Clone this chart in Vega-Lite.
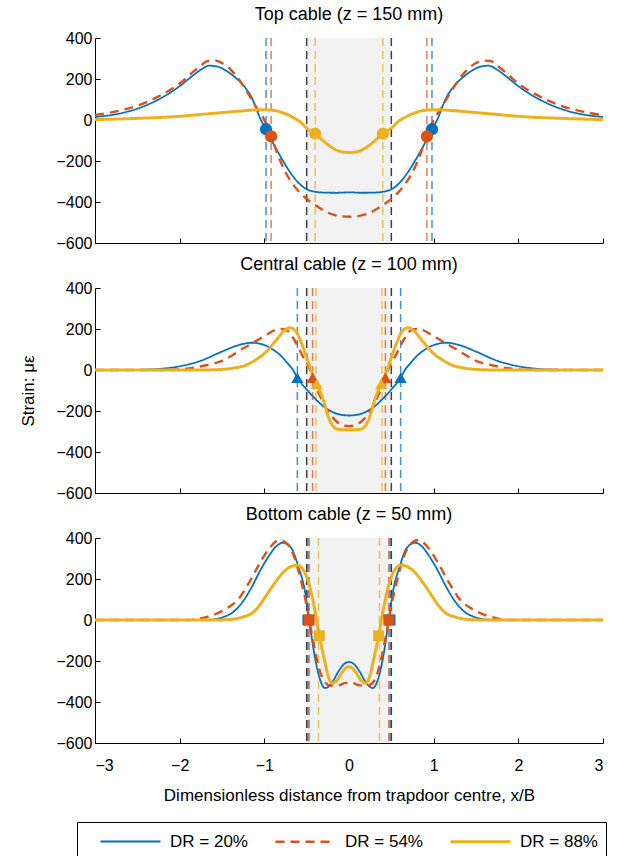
{
"$schema":"https://vega.github.io/schema/vega-lite/v6.json",
"padding":{"left":19,"top":6,"right":0,"bottom":0},
"spacing":5,
"config":{"font":"Liberation Sans","view":{"stroke":null},
 "axis":{"grid":false,"domainColor":"black","tickColor":"black","labelColor":"black","labelFontSize":16,"titleFontSize":17,"titleFontWeight":"normal","titleColor":"black","tickSize":-5,"labelPadding":8,"domainWidth":1,"tickWidth":1},
 "axisX":{"labelPadding":19},
 "legend":{"orient":"none","legendX":-18,"legendY":784,"direction":"horizontal","columns":3,"symbolType":"M0.4,0H6.4","symbolSize":400,"labelFontSize":17,"labelColor":"black","strokeColor":"black","padding":8,"columnPadding":12,"labelOffset":62},
 "title":{"fontSize":18,"fontWeight":"normal","color":"black","frame":"group","anchor":"middle","offset":6}},
"datasets":{
"trap":[{"x":-0.5,"x2":0.5}],
"edges":[{"x":-0.5},{"x":0.5}],
"vlines":[
{"p":"T","s":"20%","x":-0.98},{"p":"T","s":"20%","x":0.98},{"p":"T","s":"54%","x":-0.92},{"p":"T","s":"54%","x":0.92},{"p":"T","s":"88%","x":-0.40},{"p":"T","s":"88%","x":0.40},
{"p":"M","s":"20%","x":-0.61},{"p":"M","s":"20%","x":0.61},{"p":"M","s":"54%","x":-0.43},{"p":"M","s":"54%","x":0.43},{"p":"M","s":"88%","x":-0.39},{"p":"M","s":"88%","x":0.39},
{"p":"B","s":"20%","x":-0.485},{"p":"B","s":"20%","x":0.485},{"p":"B","s":"54%","x":-0.47},{"p":"B","s":"54%","x":0.47},{"p":"B","s":"88%","x":-0.36},{"p":"B","s":"88%","x":0.36}],
"markers":[
{"p":"T","s":"20%","x":-0.98,"y":-45},{"p":"T","s":"20%","x":0.98,"y":-45},{"p":"T","s":"54%","x":-0.92,"y":-80},{"p":"T","s":"54%","x":0.92,"y":-80},{"p":"T","s":"88%","x":-0.40,"y":-67},{"p":"T","s":"88%","x":0.40,"y":-67},
{"p":"M","s":"20%","x":-0.61,"y":-38},{"p":"M","s":"20%","x":0.61,"y":-38},{"p":"M","s":"54%","x":-0.43,"y":-38},{"p":"M","s":"54%","x":0.43,"y":-38},{"p":"M","s":"88%","x":-0.38,"y":-68},{"p":"M","s":"88%","x":0.38,"y":-68},
{"p":"B","s":"20%","x":-0.485,"y":0},{"p":"B","s":"20%","x":0.485,"y":0},{"p":"B","s":"54%","x":-0.47,"y":0},{"p":"B","s":"54%","x":0.47,"y":0},{"p":"B","s":"88%","x":-0.35,"y":-77},{"p":"B","s":"88%","x":0.35,"y":-77}],
"curves":[
{"p":"T","s":"20%","x":-3,"y":15},{"p":"T","s":"20%","x":-2.75,"y":28},{"p":"T","s":"20%","x":-2.5,"y":55},{"p":"T","s":"20%","x":-2.25,"y":100},{"p":"T","s":"20%","x":-2,"y":165},{"p":"T","s":"20%","x":-1.85,"y":215},{"p":"T","s":"20%","x":-1.75,"y":245},{"p":"T","s":"20%","x":-1.65,"y":265},{"p":"T","s":"20%","x":-1.55,"y":260},{"p":"T","s":"20%","x":-1.45,"y":240},{"p":"T","s":"20%","x":-1.35,"y":210},{"p":"T","s":"20%","x":-1.25,"y":170},{"p":"T","s":"20%","x":-1.15,"y":110},{"p":"T","s":"20%","x":-1.04,"y":0},{"p":"T","s":"20%","x":-0.98,"y":-45},{"p":"T","s":"20%","x":-0.9,"y":-110},{"p":"T","s":"20%","x":-0.8,"y":-185},{"p":"T","s":"20%","x":-0.7,"y":-252},{"p":"T","s":"20%","x":-0.6,"y":-305},{"p":"T","s":"20%","x":-0.5,"y":-338},{"p":"T","s":"20%","x":-0.4,"y":-350},{"p":"T","s":"20%","x":-0.3,"y":-354},{"p":"T","s":"20%","x":-0.15,"y":-355},{"p":"T","s":"20%","x":0,"y":-353},{"p":"T","s":"20%","x":0.15,"y":-355},{"p":"T","s":"20%","x":0.3,"y":-354},{"p":"T","s":"20%","x":0.4,"y":-350},{"p":"T","s":"20%","x":0.5,"y":-338},{"p":"T","s":"20%","x":0.6,"y":-305},{"p":"T","s":"20%","x":0.7,"y":-252},{"p":"T","s":"20%","x":0.8,"y":-185},{"p":"T","s":"20%","x":0.9,"y":-110},{"p":"T","s":"20%","x":0.98,"y":-45},{"p":"T","s":"20%","x":1.04,"y":0},{"p":"T","s":"20%","x":1.15,"y":110},{"p":"T","s":"20%","x":1.25,"y":170},{"p":"T","s":"20%","x":1.35,"y":210},{"p":"T","s":"20%","x":1.45,"y":240},{"p":"T","s":"20%","x":1.55,"y":260},{"p":"T","s":"20%","x":1.65,"y":265},{"p":"T","s":"20%","x":1.75,"y":245},{"p":"T","s":"20%","x":1.85,"y":215},{"p":"T","s":"20%","x":2,"y":165},{"p":"T","s":"20%","x":2.25,"y":100},{"p":"T","s":"20%","x":2.5,"y":55},{"p":"T","s":"20%","x":2.75,"y":28},{"p":"T","s":"20%","x":3,"y":15},
{"p":"T","s":"54%","x":-3,"y":25},{"p":"T","s":"54%","x":-2.75,"y":42},{"p":"T","s":"54%","x":-2.5,"y":70},{"p":"T","s":"54%","x":-2.25,"y":115},{"p":"T","s":"54%","x":-2,"y":178},{"p":"T","s":"54%","x":-1.85,"y":232},{"p":"T","s":"54%","x":-1.75,"y":265},{"p":"T","s":"54%","x":-1.67,"y":288},{"p":"T","s":"54%","x":-1.58,"y":290},{"p":"T","s":"54%","x":-1.5,"y":278},{"p":"T","s":"54%","x":-1.35,"y":225},{"p":"T","s":"54%","x":-1.2,"y":135},{"p":"T","s":"54%","x":-1.1,"y":65},{"p":"T","s":"54%","x":-1,"y":0},{"p":"T","s":"54%","x":-0.92,"y":-78},{"p":"T","s":"54%","x":-0.85,"y":-160},{"p":"T","s":"54%","x":-0.75,"y":-255},{"p":"T","s":"54%","x":-0.65,"y":-320},{"p":"T","s":"54%","x":-0.52,"y":-378},{"p":"T","s":"54%","x":-0.4,"y":-415},{"p":"T","s":"54%","x":-0.25,"y":-452},{"p":"T","s":"54%","x":-0.12,"y":-468},{"p":"T","s":"54%","x":0,"y":-472},{"p":"T","s":"54%","x":0.12,"y":-468},{"p":"T","s":"54%","x":0.25,"y":-452},{"p":"T","s":"54%","x":0.4,"y":-415},{"p":"T","s":"54%","x":0.52,"y":-378},{"p":"T","s":"54%","x":0.65,"y":-320},{"p":"T","s":"54%","x":0.75,"y":-255},{"p":"T","s":"54%","x":0.85,"y":-160},{"p":"T","s":"54%","x":0.92,"y":-78},{"p":"T","s":"54%","x":1,"y":0},{"p":"T","s":"54%","x":1.1,"y":65},{"p":"T","s":"54%","x":1.2,"y":135},{"p":"T","s":"54%","x":1.35,"y":225},{"p":"T","s":"54%","x":1.5,"y":278},{"p":"T","s":"54%","x":1.58,"y":290},{"p":"T","s":"54%","x":1.67,"y":288},{"p":"T","s":"54%","x":1.75,"y":265},{"p":"T","s":"54%","x":1.85,"y":232},{"p":"T","s":"54%","x":2,"y":178},{"p":"T","s":"54%","x":2.25,"y":115},{"p":"T","s":"54%","x":2.5,"y":70},{"p":"T","s":"54%","x":2.75,"y":42},{"p":"T","s":"54%","x":3,"y":25},
{"p":"T","s":"88%","x":-3,"y":2},{"p":"T","s":"88%","x":-2.5,"y":8},{"p":"T","s":"88%","x":-2,"y":18},{"p":"T","s":"88%","x":-1.75,"y":27},{"p":"T","s":"88%","x":-1.5,"y":36},{"p":"T","s":"88%","x":-1.25,"y":45},{"p":"T","s":"88%","x":-1.05,"y":50},{"p":"T","s":"88%","x":-0.95,"y":49},{"p":"T","s":"88%","x":-0.85,"y":44},{"p":"T","s":"88%","x":-0.75,"y":30},{"p":"T","s":"88%","x":-0.65,"y":10},{"p":"T","s":"88%","x":-0.58,"y":-8},{"p":"T","s":"88%","x":-0.5,"y":-40},{"p":"T","s":"88%","x":-0.4,"y":-67},{"p":"T","s":"88%","x":-0.3,"y":-103},{"p":"T","s":"88%","x":-0.2,"y":-135},{"p":"T","s":"88%","x":-0.1,"y":-154},{"p":"T","s":"88%","x":0,"y":-159},{"p":"T","s":"88%","x":0.1,"y":-154},{"p":"T","s":"88%","x":0.2,"y":-135},{"p":"T","s":"88%","x":0.3,"y":-103},{"p":"T","s":"88%","x":0.4,"y":-67},{"p":"T","s":"88%","x":0.5,"y":-40},{"p":"T","s":"88%","x":0.58,"y":-8},{"p":"T","s":"88%","x":0.65,"y":10},{"p":"T","s":"88%","x":0.75,"y":30},{"p":"T","s":"88%","x":0.85,"y":44},{"p":"T","s":"88%","x":0.95,"y":49},{"p":"T","s":"88%","x":1.05,"y":50},{"p":"T","s":"88%","x":1.25,"y":45},{"p":"T","s":"88%","x":1.5,"y":36},{"p":"T","s":"88%","x":1.75,"y":27},{"p":"T","s":"88%","x":2,"y":18},{"p":"T","s":"88%","x":2.5,"y":8},{"p":"T","s":"88%","x":3,"y":2},
{"p":"M","s":"20%","x":-3,"y":0},{"p":"M","s":"20%","x":-2.5,"y":1},{"p":"M","s":"20%","x":-2.25,"y":5},{"p":"M","s":"20%","x":-2,"y":18},{"p":"M","s":"20%","x":-1.75,"y":45},{"p":"M","s":"20%","x":-1.5,"y":90},{"p":"M","s":"20%","x":-1.3,"y":122},{"p":"M","s":"20%","x":-1.15,"y":133},{"p":"M","s":"20%","x":-1,"y":122},{"p":"M","s":"20%","x":-0.9,"y":100},{"p":"M","s":"20%","x":-0.8,"y":68},{"p":"M","s":"20%","x":-0.72,"y":30},{"p":"M","s":"20%","x":-0.66,"y":0},{"p":"M","s":"20%","x":-0.61,"y":-38},{"p":"M","s":"20%","x":-0.5,"y":-95},{"p":"M","s":"20%","x":-0.4,"y":-140},{"p":"M","s":"20%","x":-0.3,"y":-178},{"p":"M","s":"20%","x":-0.2,"y":-204},{"p":"M","s":"20%","x":-0.1,"y":-218},{"p":"M","s":"20%","x":0,"y":-222},{"p":"M","s":"20%","x":0.1,"y":-218},{"p":"M","s":"20%","x":0.2,"y":-204},{"p":"M","s":"20%","x":0.3,"y":-178},{"p":"M","s":"20%","x":0.4,"y":-140},{"p":"M","s":"20%","x":0.5,"y":-95},{"p":"M","s":"20%","x":0.61,"y":-38},{"p":"M","s":"20%","x":0.66,"y":0},{"p":"M","s":"20%","x":0.72,"y":30},{"p":"M","s":"20%","x":0.8,"y":68},{"p":"M","s":"20%","x":0.9,"y":100},{"p":"M","s":"20%","x":1,"y":122},{"p":"M","s":"20%","x":1.15,"y":133},{"p":"M","s":"20%","x":1.3,"y":122},{"p":"M","s":"20%","x":1.5,"y":90},{"p":"M","s":"20%","x":1.75,"y":45},{"p":"M","s":"20%","x":2,"y":18},{"p":"M","s":"20%","x":2.25,"y":5},{"p":"M","s":"20%","x":2.5,"y":1},{"p":"M","s":"20%","x":3,"y":0},
{"p":"M","s":"54%","x":-3,"y":0},{"p":"M","s":"54%","x":-2.2,"y":0},{"p":"M","s":"54%","x":-2,"y":3},{"p":"M","s":"54%","x":-1.85,"y":10},{"p":"M","s":"54%","x":-1.7,"y":22},{"p":"M","s":"54%","x":-1.5,"y":45},{"p":"M","s":"54%","x":-1.25,"y":105},{"p":"M","s":"54%","x":-1,"y":165},{"p":"M","s":"54%","x":-0.87,"y":195},{"p":"M","s":"54%","x":-0.8,"y":200},{"p":"M","s":"54%","x":-0.72,"y":190},{"p":"M","s":"54%","x":-0.65,"y":150},{"p":"M","s":"54%","x":-0.55,"y":70},{"p":"M","s":"54%","x":-0.46,"y":0},{"p":"M","s":"54%","x":-0.43,"y":-38},{"p":"M","s":"54%","x":-0.35,"y":-120},{"p":"M","s":"54%","x":-0.25,"y":-200},{"p":"M","s":"54%","x":-0.15,"y":-250},{"p":"M","s":"54%","x":-0.05,"y":-272},{"p":"M","s":"54%","x":0,"y":-274},{"p":"M","s":"54%","x":0.05,"y":-272},{"p":"M","s":"54%","x":0.15,"y":-250},{"p":"M","s":"54%","x":0.25,"y":-200},{"p":"M","s":"54%","x":0.35,"y":-120},{"p":"M","s":"54%","x":0.43,"y":-38},{"p":"M","s":"54%","x":0.46,"y":0},{"p":"M","s":"54%","x":0.55,"y":70},{"p":"M","s":"54%","x":0.65,"y":150},{"p":"M","s":"54%","x":0.72,"y":190},{"p":"M","s":"54%","x":0.8,"y":200},{"p":"M","s":"54%","x":0.87,"y":195},{"p":"M","s":"54%","x":1,"y":165},{"p":"M","s":"54%","x":1.25,"y":105},{"p":"M","s":"54%","x":1.5,"y":45},{"p":"M","s":"54%","x":1.7,"y":22},{"p":"M","s":"54%","x":1.85,"y":10},{"p":"M","s":"54%","x":2,"y":3},{"p":"M","s":"54%","x":2.2,"y":0},{"p":"M","s":"54%","x":3,"y":0},
{"p":"M","s":"88%","x":-3,"y":0},{"p":"M","s":"88%","x":-1.75,"y":0},{"p":"M","s":"88%","x":-1.5,"y":3},{"p":"M","s":"88%","x":-1.35,"y":10},{"p":"M","s":"88%","x":-1.25,"y":19},{"p":"M","s":"88%","x":-1.1,"y":50},{"p":"M","s":"88%","x":-1,"y":80},{"p":"M","s":"88%","x":-0.87,"y":140},{"p":"M","s":"88%","x":-0.78,"y":185},{"p":"M","s":"88%","x":-0.7,"y":206},{"p":"M","s":"88%","x":-0.63,"y":190},{"p":"M","s":"88%","x":-0.56,"y":130},{"p":"M","s":"88%","x":-0.5,"y":60},{"p":"M","s":"88%","x":-0.45,"y":0},{"p":"M","s":"88%","x":-0.38,"y":-68},{"p":"M","s":"88%","x":-0.3,"y":-150},{"p":"M","s":"88%","x":-0.25,"y":-222},{"p":"M","s":"88%","x":-0.2,"y":-268},{"p":"M","s":"88%","x":-0.15,"y":-287},{"p":"M","s":"88%","x":-0.07,"y":-291},{"p":"M","s":"88%","x":0,"y":-291},{"p":"M","s":"88%","x":0.07,"y":-291},{"p":"M","s":"88%","x":0.15,"y":-287},{"p":"M","s":"88%","x":0.2,"y":-268},{"p":"M","s":"88%","x":0.25,"y":-222},{"p":"M","s":"88%","x":0.3,"y":-150},{"p":"M","s":"88%","x":0.38,"y":-68},{"p":"M","s":"88%","x":0.45,"y":0},{"p":"M","s":"88%","x":0.5,"y":60},{"p":"M","s":"88%","x":0.56,"y":130},{"p":"M","s":"88%","x":0.63,"y":190},{"p":"M","s":"88%","x":0.7,"y":206},{"p":"M","s":"88%","x":0.78,"y":185},{"p":"M","s":"88%","x":0.87,"y":140},{"p":"M","s":"88%","x":1,"y":80},{"p":"M","s":"88%","x":1.1,"y":50},{"p":"M","s":"88%","x":1.25,"y":19},{"p":"M","s":"88%","x":1.35,"y":10},{"p":"M","s":"88%","x":1.5,"y":3},{"p":"M","s":"88%","x":1.75,"y":0},{"p":"M","s":"88%","x":3,"y":0},
{"p":"B","s":"20%","x":-3,"y":0},{"p":"B","s":"20%","x":-1.75,"y":0},{"p":"B","s":"20%","x":-1.6,"y":3},{"p":"B","s":"20%","x":-1.5,"y":12},{"p":"B","s":"20%","x":-1.35,"y":45},{"p":"B","s":"20%","x":-1.24,"y":98},{"p":"B","s":"20%","x":-1.15,"y":160},{"p":"B","s":"20%","x":-1.05,"y":240},{"p":"B","s":"20%","x":-0.95,"y":310},{"p":"B","s":"20%","x":-0.87,"y":355},{"p":"B","s":"20%","x":-0.78,"y":377},{"p":"B","s":"20%","x":-0.68,"y":350},{"p":"B","s":"20%","x":-0.6,"y":262},{"p":"B","s":"20%","x":-0.52,"y":140},{"p":"B","s":"20%","x":-0.47,"y":0},{"p":"B","s":"20%","x":-0.42,"y":-140},{"p":"B","s":"20%","x":-0.36,"y":-265},{"p":"B","s":"20%","x":-0.28,"y":-332},{"p":"B","s":"20%","x":-0.2,"y":-305},{"p":"B","s":"20%","x":-0.12,"y":-248},{"p":"B","s":"20%","x":-0.05,"y":-212},{"p":"B","s":"20%","x":0,"y":-205},{"p":"B","s":"20%","x":0.05,"y":-212},{"p":"B","s":"20%","x":0.12,"y":-248},{"p":"B","s":"20%","x":0.2,"y":-305},{"p":"B","s":"20%","x":0.28,"y":-332},{"p":"B","s":"20%","x":0.36,"y":-265},{"p":"B","s":"20%","x":0.42,"y":-140},{"p":"B","s":"20%","x":0.47,"y":0},{"p":"B","s":"20%","x":0.52,"y":140},{"p":"B","s":"20%","x":0.6,"y":262},{"p":"B","s":"20%","x":0.68,"y":350},{"p":"B","s":"20%","x":0.78,"y":377},{"p":"B","s":"20%","x":0.87,"y":355},{"p":"B","s":"20%","x":0.95,"y":310},{"p":"B","s":"20%","x":1.05,"y":240},{"p":"B","s":"20%","x":1.15,"y":160},{"p":"B","s":"20%","x":1.24,"y":98},{"p":"B","s":"20%","x":1.35,"y":45},{"p":"B","s":"20%","x":1.5,"y":12},{"p":"B","s":"20%","x":1.6,"y":3},{"p":"B","s":"20%","x":1.75,"y":0},{"p":"B","s":"20%","x":3,"y":0},
{"p":"B","s":"54%","x":-3,"y":0},{"p":"B","s":"54%","x":-1.9,"y":0},{"p":"B","s":"54%","x":-1.75,"y":8},{"p":"B","s":"54%","x":-1.6,"y":25},{"p":"B","s":"54%","x":-1.45,"y":55},{"p":"B","s":"54%","x":-1.3,"y":105},{"p":"B","s":"54%","x":-1.17,"y":190},{"p":"B","s":"54%","x":-1.05,"y":280},{"p":"B","s":"54%","x":-0.95,"y":345},{"p":"B","s":"54%","x":-0.82,"y":390},{"p":"B","s":"54%","x":-0.72,"y":368},{"p":"B","s":"54%","x":-0.64,"y":300},{"p":"B","s":"54%","x":-0.56,"y":180},{"p":"B","s":"54%","x":-0.5,"y":70},{"p":"B","s":"54%","x":-0.47,"y":0},{"p":"B","s":"54%","x":-0.42,"y":-110},{"p":"B","s":"54%","x":-0.36,"y":-225},{"p":"B","s":"54%","x":-0.3,"y":-295},{"p":"B","s":"54%","x":-0.22,"y":-320},{"p":"B","s":"54%","x":-0.12,"y":-318},{"p":"B","s":"54%","x":-0.05,"y":-308},{"p":"B","s":"54%","x":0,"y":-305},{"p":"B","s":"54%","x":0.05,"y":-308},{"p":"B","s":"54%","x":0.12,"y":-318},{"p":"B","s":"54%","x":0.22,"y":-320},{"p":"B","s":"54%","x":0.3,"y":-295},{"p":"B","s":"54%","x":0.36,"y":-225},{"p":"B","s":"54%","x":0.42,"y":-110},{"p":"B","s":"54%","x":0.47,"y":0},{"p":"B","s":"54%","x":0.5,"y":70},{"p":"B","s":"54%","x":0.56,"y":180},{"p":"B","s":"54%","x":0.64,"y":300},{"p":"B","s":"54%","x":0.72,"y":368},{"p":"B","s":"54%","x":0.82,"y":390},{"p":"B","s":"54%","x":0.95,"y":345},{"p":"B","s":"54%","x":1.05,"y":280},{"p":"B","s":"54%","x":1.17,"y":190},{"p":"B","s":"54%","x":1.3,"y":105},{"p":"B","s":"54%","x":1.45,"y":55},{"p":"B","s":"54%","x":1.6,"y":25},{"p":"B","s":"54%","x":1.75,"y":8},{"p":"B","s":"54%","x":1.9,"y":0},{"p":"B","s":"54%","x":3,"y":0},
{"p":"B","s":"88%","x":-3,"y":0},{"p":"B","s":"88%","x":-1.6,"y":0},{"p":"B","s":"88%","x":-1.4,"y":3},{"p":"B","s":"88%","x":-1.25,"y":15},{"p":"B","s":"88%","x":-1.14,"y":35},{"p":"B","s":"88%","x":-1.05,"y":75},{"p":"B","s":"88%","x":-0.96,"y":130},{"p":"B","s":"88%","x":-0.86,"y":190},{"p":"B","s":"88%","x":-0.77,"y":235},{"p":"B","s":"88%","x":-0.68,"y":262},{"p":"B","s":"88%","x":-0.61,"y":267},{"p":"B","s":"88%","x":-0.55,"y":250},{"p":"B","s":"88%","x":-0.5,"y":210},{"p":"B","s":"88%","x":-0.45,"y":140},{"p":"B","s":"88%","x":-0.4,"y":40},{"p":"B","s":"88%","x":-0.35,"y":-77},{"p":"B","s":"88%","x":-0.29,"y":-195},{"p":"B","s":"88%","x":-0.24,"y":-280},{"p":"B","s":"88%","x":-0.2,"y":-308},{"p":"B","s":"88%","x":-0.15,"y":-298},{"p":"B","s":"88%","x":-0.08,"y":-255},{"p":"B","s":"88%","x":-0.03,"y":-232},{"p":"B","s":"88%","x":0,"y":-228},{"p":"B","s":"88%","x":0.03,"y":-232},{"p":"B","s":"88%","x":0.08,"y":-255},{"p":"B","s":"88%","x":0.15,"y":-298},{"p":"B","s":"88%","x":0.2,"y":-308},{"p":"B","s":"88%","x":0.24,"y":-280},{"p":"B","s":"88%","x":0.29,"y":-195},{"p":"B","s":"88%","x":0.35,"y":-77},{"p":"B","s":"88%","x":0.4,"y":40},{"p":"B","s":"88%","x":0.45,"y":140},{"p":"B","s":"88%","x":0.5,"y":210},{"p":"B","s":"88%","x":0.55,"y":250},{"p":"B","s":"88%","x":0.61,"y":267},{"p":"B","s":"88%","x":0.68,"y":262},{"p":"B","s":"88%","x":0.77,"y":235},{"p":"B","s":"88%","x":0.86,"y":190},{"p":"B","s":"88%","x":0.96,"y":130},{"p":"B","s":"88%","x":1.05,"y":75},{"p":"B","s":"88%","x":1.14,"y":35},{"p":"B","s":"88%","x":1.25,"y":15},{"p":"B","s":"88%","x":1.4,"y":3},{"p":"B","s":"88%","x":1.6,"y":0},{"p":"B","s":"88%","x":3,"y":0}]
},
"vconcat":[
{"width":508,"height":205,"title":{"text":"Top cable (z = 150 mm)"},
 "encoding":{"x":{"field":"x","type":"quantitative","scale":{"domain":[-3,3],"nice":false,"zero":false},"axis":{"values":[-3,-2,-1,0,1,2,3],"labels":false,"title":null}}},
 "layer":[
  {"data":{"name":"trap"},"mark":{"type":"rect","color":"#f2f2f2"},"encoding":{"x2":{"field":"x2"}}},
  {"data":{"name":"edges"},"mark":{"type":"rule","color":"#404040","strokeDash":[8,5],"strokeWidth":1.5},"encoding":{}},
  {"data":{"name":"vlines"},"transform":[{"filter":"datum.p == 'T'"}],"mark":{"type":"rule","strokeDash":[8,5],"strokeWidth":1.5,"opacity":0.75},"encoding":{"stroke":{"field":"s","type":"nominal","scale":{"range":["#0072BD","#D95319","#EDB120"]},"legend":null}}},
  {"data":{"name":"curves"},"transform":[{"filter":"datum.p == 'T'"}],"mark":{"type":"line","interpolate":"monotone"},
   "encoding":{"y":{"field":"y","type":"quantitative","scale":{"domain":[-600,400],"nice":false,"zero":false},"axis":{"values":[-600,-400,-200,0,200,400],"title":null}},
    "color":{"field":"s","type":"nominal","scale":{"domain":["20%","54%","88%"],"range":["#0072BD","#D95319","#EDB120"]},"legend":{"title":null,"labelExpr":"'DR = ' + datum.label"}},
    "strokeDash":{"field":"s","type":"nominal","scale":{"domain":["20%","54%","88%"],"range":[[1,0],[9,6],[1,0]]},"legend":{"title":null,"labelExpr":"'DR = ' + datum.label"}},
    "strokeWidth":{"field":"s","type":"nominal","scale":{"domain":["20%","54%","88%"],"range":[1.8,3,3.5]},"legend":{"title":null,"labelExpr":"'DR = ' + datum.label"}}}},
  {"data":{"values":[{}]},"mark":{"type":"rule","color":"#8c8c8c","strokeWidth":1.5},"encoding":{"x":{"datum":-3},"x2":{"datum":3},"y":{"datum":0,"scale":{"domain":[-600,400],"nice":false,"zero":false},"axis":{"values":[-600,-400,-200,0,200,400],"title":null}}}},
  {"data":{"name":"markers"},"transform":[{"filter":"datum.p == 'T'"}],"mark":{"type":"point","filled":true,"shape":"circle","size":150,"opacity":1},"encoding":{"y":{"field":"y","type":"quantitative","scale":{"domain":[-600,400],"nice":false,"zero":false},"axis":{"values":[-600,-400,-200,0,200,400],"title":null}},"fill":{"field":"s","type":"nominal","scale":{"range":["#0072BD","#D95319","#EDB120"]},"legend":null}}}
 ]},
{"width":508,"height":205,"title":{"text":"Central cable (z = 100 mm)"},
 "encoding":{"x":{"field":"x","type":"quantitative","scale":{"domain":[-3,3],"nice":false,"zero":false},"axis":{"values":[-3,-2,-1,0,1,2,3],"labels":false,"title":null}}},
 "layer":[
  {"data":{"name":"trap"},"mark":{"type":"rect","color":"#f2f2f2"},"encoding":{"x2":{"field":"x2"}}},
  {"data":{"name":"edges"},"mark":{"type":"rule","color":"#404040","strokeDash":[8,5],"strokeWidth":1.5},"encoding":{}},
  {"data":{"name":"vlines"},"transform":[{"filter":"datum.p == 'M'"}],"mark":{"type":"rule","strokeDash":[8,5],"strokeWidth":1.5,"opacity":0.75},"encoding":{"stroke":{"field":"s","type":"nominal","scale":{"range":["#0072BD","#D95319","#EDB120"]},"legend":null}}},
  {"data":{"name":"curves"},"transform":[{"filter":"datum.p == 'M'"}],"mark":{"type":"line","interpolate":"monotone"},
   "encoding":{"y":{"field":"y","type":"quantitative","scale":{"domain":[-600,400],"nice":false,"zero":false},"axis":{"values":[-600,-400,-200,0,200,400],"title":"Strain: με","titlePadding":18}},
    "color":{"field":"s","type":"nominal","scale":{"domain":["20%","54%","88%"],"range":["#0072BD","#D95319","#EDB120"]},"legend":{"title":null,"labelExpr":"'DR = ' + datum.label"}},
    "strokeDash":{"field":"s","type":"nominal","scale":{"domain":["20%","54%","88%"],"range":[[1,0],[9,6],[1,0]]},"legend":{"title":null,"labelExpr":"'DR = ' + datum.label"}},
    "strokeWidth":{"field":"s","type":"nominal","scale":{"domain":["20%","54%","88%"],"range":[1.8,3,3.5]},"legend":{"title":null,"labelExpr":"'DR = ' + datum.label"}}}},
  {"data":{"values":[{}]},"mark":{"type":"rule","color":"#404040","strokeWidth":1},"encoding":{"x":{"datum":-3},"x2":{"datum":3},"y":{"datum":0,"scale":{"domain":[-600,400],"nice":false,"zero":false},"axis":{"values":[-600,-400,-200,0,200,400],"title":"Strain: με","titlePadding":18}}}},
  {"data":{"name":"markers"},"transform":[{"filter":"datum.p == 'M'"}],"mark":{"type":"point","filled":true,"shape":"triangle-up","size":150,"opacity":1},"encoding":{"y":{"field":"y","type":"quantitative","scale":{"domain":[-600,400],"nice":false,"zero":false},"axis":{"values":[-600,-400,-200,0,200,400],"title":"Strain: με","titlePadding":18}},"fill":{"field":"s","type":"nominal","scale":{"range":["#0072BD","#D95319","#EDB120"]},"legend":null}}}
 ]},
{"width":508,"height":205,"title":{"text":"Bottom cable (z = 50 mm)"},
 "encoding":{"x":{"field":"x","type":"quantitative","scale":{"domain":[-3,3],"nice":false,"zero":false},"axis":{"values":[-3,-2,-1,0,1,2,3],"title":"Dimensionless distance from trapdoor centre, x/B","titlePadding":14}}},
 "layer":[
  {"data":{"name":"trap"},"mark":{"type":"rect","color":"#f2f2f2"},"encoding":{"x2":{"field":"x2"}}},
  {"data":{"name":"edges"},"mark":{"type":"rule","color":"#404040","strokeDash":[8,5],"strokeWidth":1.5},"encoding":{}},
  {"data":{"name":"vlines"},"transform":[{"filter":"datum.p == 'B'"}],"mark":{"type":"rule","strokeDash":[8,5],"strokeWidth":1.5,"opacity":0.75},"encoding":{"stroke":{"field":"s","type":"nominal","scale":{"range":["#0072BD","#D95319","#EDB120"]},"legend":null}}},
  {"data":{"name":"curves"},"transform":[{"filter":"datum.p == 'B'"}],"mark":{"type":"line","interpolate":"monotone"},
   "encoding":{"y":{"field":"y","type":"quantitative","scale":{"domain":[-600,400],"nice":false,"zero":false},"axis":{"values":[-600,-400,-200,0,200,400],"title":null}},
    "color":{"field":"s","type":"nominal","scale":{"domain":["20%","54%","88%"],"range":["#0072BD","#D95319","#EDB120"]},"legend":{"title":null,"labelExpr":"'DR = ' + datum.label"}},
    "strokeDash":{"field":"s","type":"nominal","scale":{"domain":["20%","54%","88%"],"range":[[1,0],[9,6],[1,0]]},"legend":{"title":null,"labelExpr":"'DR = ' + datum.label"}},
    "strokeWidth":{"field":"s","type":"nominal","scale":{"domain":["20%","54%","88%"],"range":[1.8,3,3.5]},"legend":{"title":null,"labelExpr":"'DR = ' + datum.label"}}}},
  {"data":{"values":[{}]},"mark":{"type":"rule","color":"#404040","strokeWidth":1},"encoding":{"x":{"datum":-3},"x2":{"datum":3},"y":{"datum":0,"scale":{"domain":[-600,400],"nice":false,"zero":false},"axis":{"values":[-600,-400,-200,0,200,400],"title":null}}}},
  {"data":{"name":"markers"},"transform":[{"filter":"datum.p == 'B'"}],"mark":{"type":"point","filled":true,"shape":"square","size":120,"opacity":1},"encoding":{"y":{"field":"y","type":"quantitative","scale":{"domain":[-600,400],"nice":false,"zero":false},"axis":{"values":[-600,-400,-200,0,200,400],"title":null}},"fill":{"field":"s","type":"nominal","scale":{"range":["#0072BD","#D95319","#EDB120"]},"legend":null}}}
 ]}
]
}
